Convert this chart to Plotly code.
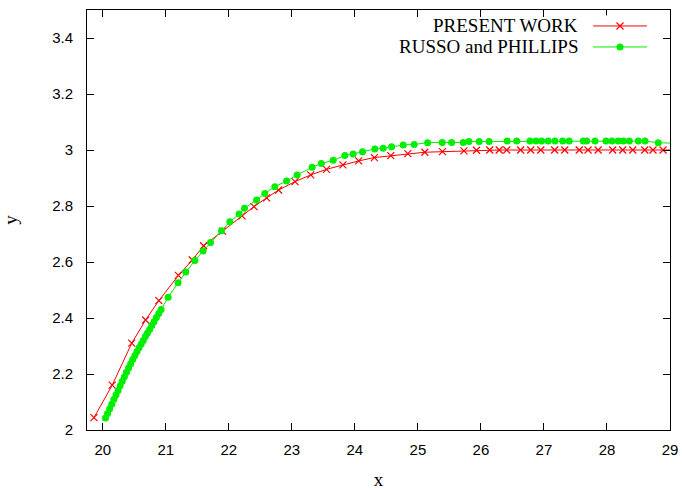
import plotly.graph_objects as go

# PRESENT WORK (red, x markers)
present_x = [19.86, 20.15, 20.46, 20.68, 20.89, 21.20, 21.42, 21.60, 21.90, 22.21,
             22.40, 22.60, 22.79, 23.05, 23.30, 23.55, 23.81, 24.06, 24.31, 24.57,
             24.84, 25.11, 25.39, 25.73, 25.93, 26.14, 26.29, 26.41, 26.63, 26.79,
             26.95, 27.17, 27.33, 27.56, 27.70, 27.86, 28.09, 28.25, 28.41, 28.60,
             28.73, 28.89, 29.10]
present_y = [2.044, 2.160, 2.310, 2.393, 2.462, 2.552, 2.607, 2.658, 2.710, 2.765,
             2.798, 2.829, 2.857, 2.887, 2.911, 2.931, 2.947, 2.961, 2.973, 2.980,
             2.987, 2.992, 2.994, 2.997, 2.999, 3.000, 3.000, 3.000, 3.000, 3.000,
             3.000, 3.000, 3.000, 3.000, 3.000, 3.000, 3.000, 3.000, 3.000, 3.000,
             3.000, 3.000, 3.000]

# RUSSO and PHILLIPS (green, filled circles)
russo_x = [20.043, 20.076, 20.110, 20.143, 20.176, 20.210, 20.243, 20.276, 20.310, 20.343,
           20.376, 20.410, 20.443, 20.476, 20.510, 20.543, 20.576, 20.610, 20.643, 20.676,
           20.710, 20.743, 20.778, 20.813, 20.851, 20.889, 20.925, 21.037, 21.195, 21.317,
           21.460, 21.592, 21.710, 21.884, 22.016, 22.163, 22.249, 22.440, 22.571, 22.730,
           22.916, 23.084, 23.322, 23.468, 23.656, 23.841, 23.973, 24.122, 24.317, 24.449,
           24.583, 24.767, 24.941, 25.154, 25.386, 25.535, 25.719, 25.810, 25.973, 26.130,
           26.417, 26.567, 26.778, 26.873, 26.963, 27.068, 27.175, 27.297, 27.400, 27.624,
           27.678, 27.810, 27.984, 28.079, 28.179, 28.259, 28.354, 28.497, 28.603, 28.814,
           29.100]
russo_y = [2.043, 2.059, 2.076, 2.092, 2.109, 2.125, 2.141, 2.158, 2.174, 2.190,
           2.206, 2.221, 2.237, 2.252, 2.266, 2.280, 2.294, 2.307, 2.320, 2.334,
           2.346, 2.359, 2.373, 2.387, 2.402, 2.416, 2.430, 2.474, 2.526, 2.564,
           2.605, 2.639, 2.670, 2.712, 2.744, 2.771, 2.792, 2.821, 2.845, 2.869,
           2.889, 2.911, 2.938, 2.952, 2.963, 2.980, 2.986, 2.994, 3.004, 3.006,
           3.012, 3.018, 3.020, 3.026, 3.027, 3.027, 3.027, 3.030, 3.030, 3.030,
           3.032, 3.032, 3.032, 3.032, 3.032, 3.032, 3.032, 3.032, 3.032, 3.032,
           3.032, 3.032, 3.032, 3.032, 3.032, 3.032, 3.032, 3.032, 3.032, 3.026,
           3.024]

series_names = ["PRESENT WORK", "RUSSO and PHILLIPS"]
RED = "#ff0000"
GREEN = "#00ee00"
SERIF = "Liberation Serif, Times New Roman, serif"
SANS = "Liberation Sans, Arial, sans-serif"

fig = go.Figure()
fig.add_trace(go.Scatter(x=present_x, y=present_y, mode="lines+markers", name=series_names[0],
                         line=dict(color=RED, width=1),
                         marker=dict(symbol="x-thin", size=7, line=dict(color=RED, width=1.2), color=RED),
                         showlegend=False))
fig.add_trace(go.Scatter(x=russo_x, y=russo_y, mode="lines+markers", name=series_names[1],
                         line=dict(color=GREEN, width=1),
                         marker=dict(symbol="circle", size=7, color=GREEN),
                         showlegend=False))

# custom legend (sample on the right of the text, like gnuplot)
fig.add_trace(go.Scatter(x=[0, 0.5, 1], y=[1, 1, 1], xaxis="x2", yaxis="y2", mode="lines",
                         line=dict(color=RED, width=1), showlegend=False, hoverinfo="skip"))
fig.add_trace(go.Scatter(x=[0.5], y=[1], xaxis="x2", yaxis="y2", mode="markers", cliponaxis=False,
                         marker=dict(symbol="x-thin", size=7, line=dict(color=RED, width=1.2)),
                         showlegend=False, hoverinfo="skip"))
fig.add_trace(go.Scatter(x=[0, 0.5, 1], y=[0, 0, 0], xaxis="x2", yaxis="y2", mode="lines",
                         line=dict(color=GREEN, width=1), showlegend=False, hoverinfo="skip"))
fig.add_trace(go.Scatter(x=[0.5], y=[0], xaxis="x2", yaxis="y2", mode="markers", cliponaxis=False,
                         marker=dict(symbol="circle", size=7, color=GREEN),
                         showlegend=False, hoverinfo="skip"))

for i, (name, yy) in enumerate(zip(series_names, [0.962, 0.912])):
    fig.add_annotation(text=name, xref="paper", yref="paper", x=0.8456, y=yy,
                       xanchor="right", yanchor="middle", showarrow=False,
                       font=dict(family=SERIF, size=19, color="black"))

axis_common = dict(showgrid=False, zeroline=False, showline=True, linecolor="black", linewidth=1,
                   mirror="ticks", ticks="inside", ticklen=7, tickcolor="black", tickwidth=1,
                   automargin=False,
                   tickfont=dict(family=SANS, size=15, color="black"))

fig.update_layout(
    width=682, height=490,
    margin=dict(l=87, r=12, t=10, b=60),
    plot_bgcolor="white", paper_bgcolor="white",
    xaxis=dict(range=[19.75, 29], dtick=1, tick0=20, ticklabelstandoff=6,
               title=dict(text="x", font=dict(family=SERIF, size=19, color="black"), standoff=20),
               **axis_common),
    yaxis=dict(range=[2, 3.5], dtick=0.2, tick0=2, ticklabelstandoff=10,
               title=dict(text="y", font=dict(family=SERIF, size=19, color="black"), standoff=30),
               **axis_common),
    xaxis2=dict(domain=[0.868, 0.9605], range=[0, 1], visible=False, anchor="y2"),
    yaxis2=dict(domain=[0.887, 0.987], range=[-0.5, 1.5], visible=False, anchor="x2"),
)

fig.write_html("out.html")
